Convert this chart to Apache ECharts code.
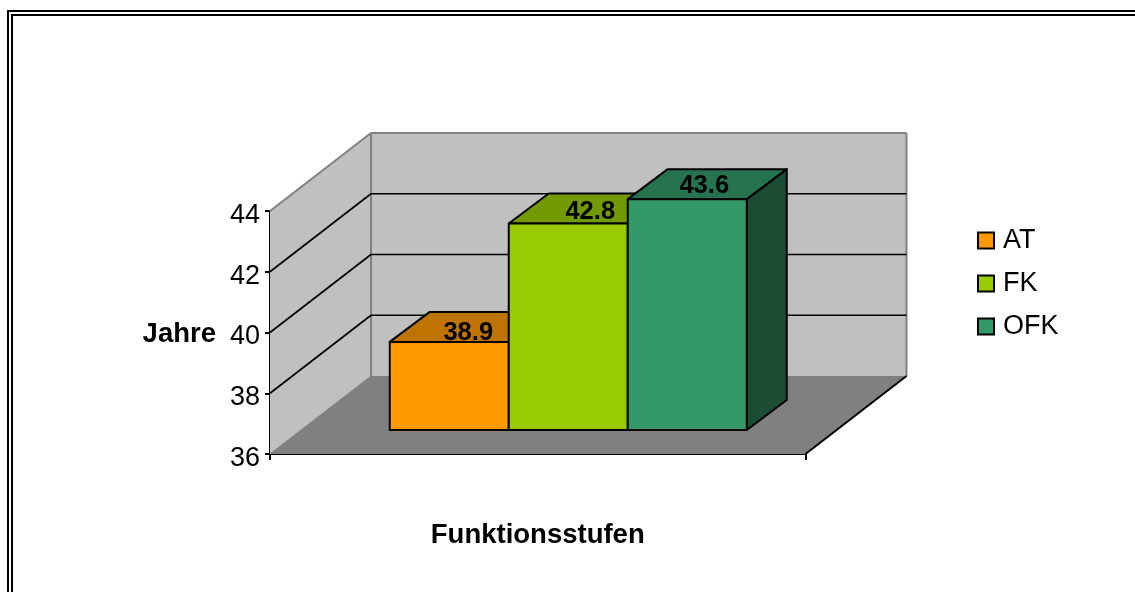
<!DOCTYPE html>
<html>
<head>
<meta charset="utf-8">
<style>
  html, body { margin: 0; padding: 0; background: #fff; }
  #main { width: 1135px; height: 592px; }
</style>
<script src="https://cdn.jsdelivr.net/npm/echarts@6/dist/echarts.min.js"></script>
</head>
<body>
<div id="main"></div>
<script>
// Data
var categories = ['Funktionsstufen'];
var seriesNames = ['AT', 'FK', 'OFK'];
var seriesValues = [38.9, 42.8, 43.6];
var gridTicks = [38, 40, 42];

var yMin = 36, yMax = 44, yStep = 2;

// colours: front, top, side of every bar
var frontColors = ['#ff9900', '#99cc00', '#339966'];
var topColors = ['#bf7300', '#739900', '#267350'];
var sideColors = ['#804d00', '#4d6600', '#1a4d33'];

// the fake 3D: how far things move when they go backwards
var depthAll = [101, -78];
var depthGap = [30.5, -24];
var depthBar = [40, -30];
var labelShift = [[19, -9], [22, -11.5], [17, -13.5]];
var gapWidth = 1.5; // excel gap width 150%

var font = '"Liberation Sans", Arial, sans-serif';

function add(p, d) {
  return [p[0] + d[0], p[1] + d[1]];
}

function poly(points, fill, stroke, lineWidth) {
  return {
    type: 'polygon',
    shape: { points: points },
    style: { fill: fill, stroke: stroke || null, lineWidth: lineWidth || 0, lineJoin: 'round' }
  };
}

function line(a, b, color, width) {
  return {
    type: 'line',
    shape: { x1: a[0], y1: a[1], x2: b[0], y2: b[1] },
    style: { stroke: color, lineWidth: width }
  };
}

// walls and floor of the box
function renderWalls(params, api) {
  var bl = api.coord([0, yMin]);
  var tl = api.coord([0, yMax]);
  var band = api.size([1, 0])[0];
  bl = [bl[0] - band / 2, bl[1]];
  tl = [tl[0] - band / 2, tl[1]];
  var br = [bl[0] + band, bl[1]];
  var bbl = add(bl, depthAll), btl = add(tl, depthAll), bbr = add(br, depthAll);
  var btr = [bbr[0], btl[1]];
  return {
    type: 'group',
    children: [
      poly([bbl, btl, btr, bbr], '#c0c0c0'),
      poly([bl, tl, btl, bbl], '#c0c0c0'),
      poly([bl, bbl, bbr, br], '#808080'),
      line(tl, btl, '#808080', 2),
      line(btl, btr, '#808080', 2),
      line(btl, bbl, '#808080', 2),
      line(btr, bbr, '#808080', 2),
      line(bl, bbl, '#808080', 1),
      line(br, bbr, '#000', 2)
    ]
  };
}

function renderGrid(params, api) {
  var p = api.coord([0, api.value(0)]);
  var band = api.size([1, 0])[0];
  var a = [p[0] - band / 2, p[1]];
  var b = add(a, depthAll);
  return {
    type: 'group',
    children: [
      line(a, b, '#000', 1.7),
      line(b, [b[0] + band, b[1]], '#000', 1.7)
    ]
  };
}

function renderBar(idx) {
  return function (params, api) {
    var band = api.size([1, 0])[0];
    var w = band / (seriesNames.length + gapWidth);
    var c = api.coord([0, yMin]);
    var t = api.coord([0, api.value(0)]);
    var x0 = c[0] - w * seriesNames.length / 2 + idx * w;
    var bl = add([x0, c[1]], depthGap);
    var tl = add([x0, t[1]], depthGap);
    var br = [bl[0] + w, bl[1]];
    var tr = [tl[0] + w, tl[1]];
    var center = [(tl[0] + tr[0]) / 2 + labelShift[idx][0], tl[1] + labelShift[idx][1]];
    return {
      type: 'group',
      children: [
        poly([br, tr, add(tr, depthBar), add(br, depthBar)], sideColors[idx], '#000', 2),
        poly([tl, tr, add(tr, depthBar), add(tl, depthBar)], topColors[idx], '#000', 2),
        poly([tl, tr, br, bl], frontColors[idx], '#000', 2),
        {
          type: 'text',
          x: center[0],
          y: center[1],
          z2: 10,
          style: {
            text: api.value(0).toFixed(1),
            fill: '#000',
            font: 'bold 25.5px ' + font,
            align: 'center',
            verticalAlign: 'middle'
          }
        }
      ]
    };
  };
}

var series = [
  { type: 'custom', name: 'walls', silent: true, renderItem: renderWalls, data: [[yMin]], z: 1 },
  { type: 'custom', name: 'grid', silent: true, renderItem: renderGrid, data: gridTicks.map(function (v) { return [v]; }), z: 2 }
];
seriesNames.forEach(function (name, i) {
  series.push({
    type: 'custom',
    name: name,
    renderItem: renderBar(i),
    itemStyle: { color: frontColors[i], borderColor: '#000', borderWidth: 2 },
    data: [[seriesValues[i]]],
    z: 3 + i
  });
});

var option = {
  animation: false,
  backgroundColor: '#fff',
  graphic: [
    // the double frame of the page, open to the right and bottom
    { type: 'polyline', silent: true, shape: { points: [[8, 592], [8, 11], [1135, 11]] }, style: { stroke: '#000', fill: null, lineWidth: 2 } },
    { type: 'polyline', silent: true, shape: { points: [[12, 592], [12, 15], [1135, 15]] }, style: { stroke: '#000', fill: null, lineWidth: 2 } }
  ],
  legend: {
    data: seriesNames,
    orient: 'vertical',
    left: 977,
    top: 227,
    padding: 0,
    itemWidth: 16,
    itemHeight: 16,
    itemGap: 16,
    icon: 'rect',
    textStyle: { fontFamily: font, fontSize: 27, color: '#000', padding: [2, 0, 0, 4] }
  },
  grid: { left: 270, top: 211, width: 535.5, height: 243, containLabel: false },
  xAxis: {
    type: 'category',
    data: categories,
    boundaryGap: true,
    name: 'Funktionsstufen',
    nameLocation: 'middle',
    nameGap: 67,
    nameTextStyle: { fontFamily: font, fontSize: 27.5, fontWeight: 'bold', color: '#000' },
    axisLine: { lineStyle: { color: '#000', width: 2 } },
    axisTick: { show: true, length: 6, lineStyle: { color: '#000', width: 2 } },
    axisLabel: { show: false },
    splitLine: { show: false }
  },
  yAxis: {
    type: 'value',
    min: yMin,
    max: yMax,
    interval: yStep,
    name: '{n|Jahre}',
    nameLocation: 'middle',
    nameRotate: 0,
    nameGap: 54,
    nameTextStyle: {
      rich: { n: { fontFamily: font, fontSize: 27.5, fontWeight: 'bold', color: '#000', padding: [4, 0, 0, 0] } }
    },
    axisLine: { show: true, lineStyle: { color: '#000', width: 2 } },
    axisTick: { show: true, length: 5, lineStyle: { color: '#000', width: 2 } },
    axisLabel: {
      margin: 10,
      formatter: '{t|{value}}',
      rich: { t: { fontFamily: font, fontSize: 27, color: '#000', padding: [9, 0, 0, 0] } }
    },
    splitLine: { show: false }
  },
  series: series
};

var myChart = echarts.init(document.getElementById('main'), null, { renderer: 'canvas' });
myChart.setOption(option);
</script>
</body>
</html>
